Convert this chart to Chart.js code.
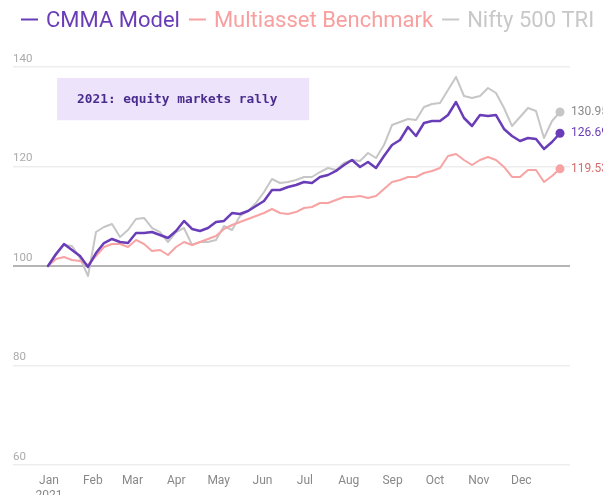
<!DOCTYPE html>
<html>
<head>
<meta charset="utf-8">
<script src="https://cdn.jsdelivr.net/npm/chart.js@4.4.1/dist/chart.umd.min.js"></script>
<style>
  html, body { margin: 0; padding: 0; background: #fff; }
  #wrap { width: 603px; height: 495px; position: relative; }
</style>
</head>
<body>
<div id="wrap"><canvas id="chart"></canvas></div>
<script>
// month ticks (day of year where each month starts)
const monthLabels = ["Jan", "Feb", "Mar", "Apr", "May", "Jun", "Jul", "Aug", "Sep", "Oct", "Nov", "Dec"];
const monthStartDays = [0, 31, 59, 90, 120, 151, 181, 212, 243, 273, 304, 334];
const yearLabel = "2021";

const seriesNames = ["CMMA Model", "Multiasset Benchmark", "Nifty 500 TRI"];

// values, one point every few trading days
const cmmaModel = [
  100.0, 102.41, 104.42, 103.22, 102.01, 99.8, 102.61, 104.62, 105.43, 104.82,
  104.62, 106.63, 106.63, 106.83, 106.23, 105.63, 107.04, 109.05, 107.44, 107.04,
  107.64, 108.84, 109.05, 110.65, 110.45, 111.06, 112.06, 113.07, 115.28, 115.28,
  115.88, 116.28, 116.88, 116.68, 117.89, 118.29, 119.1, 120.3, 121.31, 119.9,
  120.9, 119.7, 122.11, 124.32, 125.33, 127.94, 126.13, 128.74, 129.15, 129.15,
  130.35, 132.96, 129.75, 128.14, 130.35, 130.15, 130.35, 127.54, 126.13, 125.13,
  125.73, 125.53, 123.52, 124.92, 126.69
];
const multiassetBenchmark = [
  100.0, 101.41, 101.81, 101.21, 101.01, 100.2, 102.01, 103.82, 104.42, 104.42,
  103.82, 105.23, 104.42, 103.02, 103.22, 102.21, 103.82, 104.82, 104.22, 104.82,
  105.43, 106.03, 107.44, 108.24, 108.84, 109.45, 110.05, 110.65, 111.46, 110.65,
  110.45, 110.85, 111.66, 111.86, 112.66, 112.66, 113.27, 113.87, 113.87, 114.07,
  113.67, 114.07, 115.48, 116.88, 117.29, 117.89, 117.89, 118.69, 119.1, 119.7,
  122.11, 122.51, 121.31, 120.3, 121.31, 121.91, 121.31, 119.9, 117.89, 117.89,
  119.3, 119.3, 116.88, 118.09, 119.53
];
const nifty500 = [
  100.0, 102.21, 104.22, 104.02, 101.61, 97.99, 106.83, 107.84, 108.44, 105.83,
  107.24, 109.45, 109.65, 107.64, 106.83, 104.82, 106.83, 107.64, 104.22, 104.82,
  104.82, 105.23, 108.04, 107.24, 110.05, 111.06, 112.66, 114.87, 117.49, 116.68,
  116.88, 117.29, 117.89, 117.89, 118.89, 119.7, 119.3, 120.7, 121.31, 121.11,
  122.71, 121.71, 124.32, 128.34, 128.94, 129.55, 129.35, 131.96, 132.56, 132.76,
  135.38, 138.0, 134.17, 133.77, 134.17, 135.78, 134.77, 131.76, 128.14, 129.95,
  131.76, 131.16, 125.73, 129.15, 130.95
];
const sessionIndex = cmmaModel.map((_, i) => i);

const yTicks = [60, 80, 100, 120, 140];

const purple = "#6a3db8";
const pink = "#f8a3a3";
const grey = "#c6c6c6";
const legendColors = [purple, "#f7a09f", "#c8c8c8"];
const labelColors = ["#6a3db8", "#d46c6c", "#8a8a8a"];

const annotation = {
  text: "2021: equity markets rally",
  dayFrom: 5.7, dayTo: 184, yTop: 137.8, yBottom: 129.3
};

// legend drawn as coloured text above the plot
const topLegend = {
  id: "topLegend",
  afterDraw(chart) {
    const ctx = chart.ctx;
    ctx.save();
    ctx.font = "22px Roboto";
    ctx.textBaseline = "alphabetic";
    let x = 21;
    seriesNames.forEach((name, i) => {
      ctx.strokeStyle = legendColors[i];
      ctx.lineWidth = 2;
      ctx.beginPath();
      ctx.moveTo(x, 19.5);
      ctx.lineTo(x + 17, 19.5);
      ctx.stroke();
      x += 25;
      ctx.fillStyle = legendColors[i];
      ctx.fillText(name, x, 27);
      x += ctx.measureText(name).width + 9;
    });
    ctx.restore();
  }
};

const noteBox = {
  id: "noteBox",
  beforeDatasetsDraw(chart) {
    const { ctx, scales } = chart;
    const x0 = scales.xm.getPixelForValue(annotation.dayFrom);
    const x1 = scales.xm.getPixelForValue(annotation.dayTo);
    const y0 = scales.y.getPixelForValue(annotation.yTop);
    const y1 = scales.y.getPixelForValue(annotation.yBottom);
    ctx.save();
    ctx.fillStyle = "#ede4fc";
    ctx.fillRect(x0, y0, x1 - x0, y1 - y0);
    ctx.fillStyle = "#4a2c8e";
    ctx.font = "bold 12.8px 'DejaVu Sans Mono'";
    ctx.textBaseline = "middle";
    ctx.fillText(annotation.text, x0 + 20, (y0 + y1) / 2 + 1);
    ctx.restore();
  }
};

const endLabels = {
  id: "endLabels",
  afterDatasetsDraw(chart) {
    const ctx = chart.ctx;
    ctx.save();
    chart.data.datasets.forEach((ds, i) => {
      const meta = chart.getDatasetMeta(i);
      const pt = meta.data[meta.data.length - 1];
      const v = ds.data[ds.data.length - 1];
      ctx.beginPath();
      ctx.arc(pt.x, pt.y, 4.5, 0, Math.PI * 2);
      ctx.fillStyle = ds.borderColor;
      ctx.fill();
      ctx.fillStyle = labelColors[i];
      ctx.font = "12px Roboto";
      ctx.textBaseline = "middle";
      ctx.fillText(v.toFixed(2), pt.x + 11, pt.y);
    });
    ctx.restore();
  }
};

new Chart(document.getElementById("chart"), {
  type: "line",
  data: {
    labels: sessionIndex,
    datasets: [
      { label: seriesNames[0], data: cmmaModel, borderColor: purple, borderWidth: 2.5 },
      { label: seriesNames[1], data: multiassetBenchmark, borderColor: pink, borderWidth: 2 },
      { label: seriesNames[2], data: nifty500, borderColor: grey, borderWidth: 2 }
    ]
  },
  options: {
    responsive: true,
    maintainAspectRatio: false,
    animation: false,
    layout: { padding: { left: 13, right: 33, top: 67, bottom: 0 } },
    elements: {
      point: { radius: 0 },
      line: { tension: 0, borderJoinStyle: "round", borderCapStyle: "round" }
    },
    plugins: { legend: { display: false }, tooltip: { enabled: false } },
    scales: {
      x: {
        type: "linear",
        display: false,
        min: -4.375,
        max: 65.25
      },
      xm: {
        type: "linear",
        position: "bottom",
        min: -25.46,
        max: 368.46,
        grid: { display: false },
        border: { display: false },
        afterBuildTicks(scale) {
          scale.ticks = monthStartDays.map(v => ({ value: v }));
        },
        afterFit(scale) { scale.height = 30; },
        ticks: {
          autoSkip: false,
          maxRotation: 0,
          padding: 1,
          color: "#888",
          font: { family: "Roboto", size: 12 },
          callback: (value, index) => index === 0 ? [monthLabels[0], yearLabel] : monthLabels[index]
        }
      },
      y: {
        min: 60,
        max: 140,
        afterBuildTicks(scale) {
          scale.ticks = yTicks.map(v => ({ value: v }));
        },
        border: { display: false },
        grid: {
          drawTicks: false,
          color: ctx => ctx.tick.value === 100 ? "#b5b5b5" : "#ededed",
          lineWidth: ctx => ctx.tick.value === 100 ? 2 : 1.5
        },
        ticks: {
          mirror: true,
          padding: 0,
          labelOffset: -8,
          color: "#aaa",
          font: { family: "Roboto", size: 11.5 }
        }
      }
    }
  },
  plugins: [noteBox, endLabels, topLegend]
});
</script>
</body>
</html>
